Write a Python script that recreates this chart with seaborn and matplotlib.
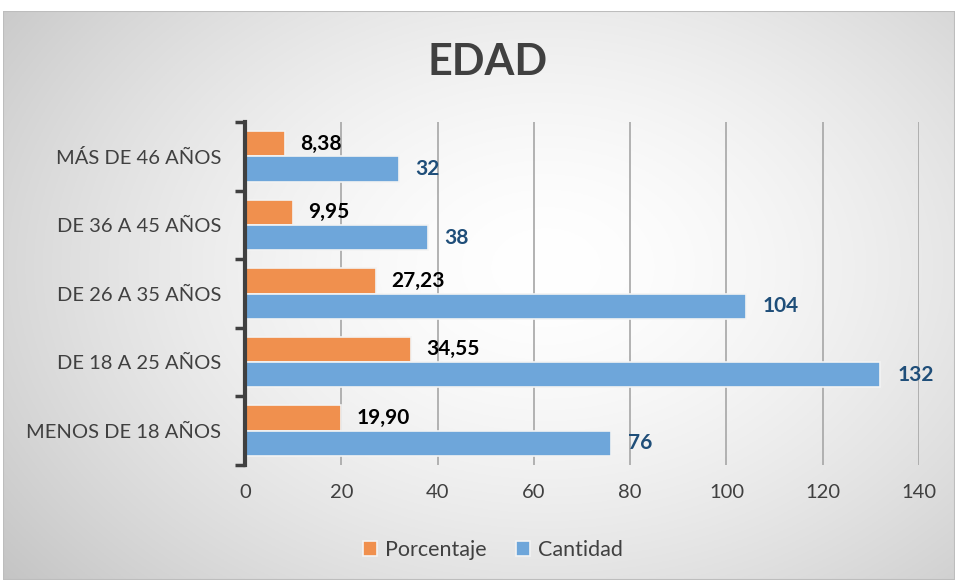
import matplotlib
matplotlib.use('Agg')
import matplotlib.pyplot as plt
import numpy as np
import pandas as pd
import seaborn as sns
from matplotlib.patches import Rectangle

# Data
categories = ['MÁS DE 46 AÑOS', 'DE 36 A 45 AÑOS', 'DE 26 A 35 AÑOS',
              'DE 18 A 25 AÑOS', 'MENOS DE 18 AÑOS']
porcentaje = [8.38, 9.95, 27.23, 34.55, 19.90]
cantidad = [32, 38, 104, 132, 76]
series = ['Porcentaje', 'Cantidad']
x_ticks = [0, 20, 40, 60, 80, 100, 120, 140]

orange = '#F0904E'
blue = '#6EA6DA'

df = pd.DataFrame({
    'grupo': categories * 2,
    'valor': porcentaje + cantidad,
    'serie': ['Porcentaje'] * len(categories) + ['Cantidad'] * len(categories),
})

sns.set_style('white')
plt.rcParams['font.family'] = ['Lato', 'DejaVu Sans']

fig = plt.figure(figsize=(9.55, 5.8), dpi=100)

# gradient background panel
bg = fig.add_axes([3 / 955, 0, 952 / 955, 569 / 580])
yy, xx = np.mgrid[0:1:300j, 0:1:500j]
r = np.sqrt(((xx - 0.57) / 0.75) ** 2 + ((yy - 0.55) / 0.9) ** 2)
shade = 1.0 - 0.24 * np.clip(r, 0, 1.25) ** 1.6
bg.imshow(np.dstack([shade] * 3), extent=[0, 1, 0, 1], aspect='auto', origin='lower')
bg.add_patch(Rectangle((0, 0), 1, 1, fill=False, edgecolor='#BDBDBD', lw=1.5,
                       transform=bg.transAxes))
bg.set_axis_off()

ax = fig.add_axes([245 / 955, 115 / 580, 674 / 955, 343 / 580])
ax.set_facecolor('none')
sns.barplot(data=df, x='valor', y='grupo', hue='serie', order=categories,
            hue_order=series, palette=[orange, blue], orient='h', width=0.74,
            saturation=1, edgecolor='#F3F3F3', linewidth=1.2, ax=ax, legend=True)

ax.set_xlim(0, 140)
ax.set_xticks(x_ticks)
ax.set_xticklabels([str(t) for t in x_ticks])
ax.set_ylim(4.5, -0.5)
ax.set_yticks(range(len(categories)))
ax.set_yticks(np.arange(-0.5, len(categories)), minor=True)
ax.tick_params(axis='y', which='major', left=False, length=0, pad=17, labelsize=14.5,
               labelcolor='#404040')
ax.tick_params(axis='y', which='minor', left=True, length=7, width=2.5, color='#404040',
               direction='out')
ax.tick_params(axis='x', length=0, pad=14, labelsize=14.5, labelcolor='#404040')
ax.set_xlabel('')
ax.set_ylabel('')
ax.xaxis.grid(True, color='#A6A6A6', lw=1.2)
ax.set_axisbelow(True)
for s in ['top', 'right', 'bottom']:
    ax.spines[s].set_visible(False)
ax.spines['left'].set_color('#404040')
ax.spines['left'].set_linewidth(3)

# value labels
for cont, color, vals, pad in zip(ax.containers, ['black', '#1F4E79'],
                                  [porcentaje, cantidad], [11, 12]):
    labels = [f'{v:.2f}'.replace('.', ',') if color == 'black' else f'{v:.0f}' for v in vals]
    ax.bar_label(cont, labels=labels, padding=pad, color=color, fontsize=15,
                 fontweight='bold')

leg = ax.legend(loc='upper center', bbox_to_anchor=(493 / 955, 0.102),
                bbox_transform=fig.transFigure, ncol=2, frameon=False,
                fontsize=15.5, handlelength=0.65, handleheight=0.65, handletextpad=0.35,
                columnspacing=1.4)
for t in leg.get_texts():
    t.set_color('#404040')

fig.text(0.511, 0.893, 'EDAD', ha='center', va='center', fontsize=31,
         fontweight='bold', color='#404040')

fig.savefig('out.png', dpi=100)
